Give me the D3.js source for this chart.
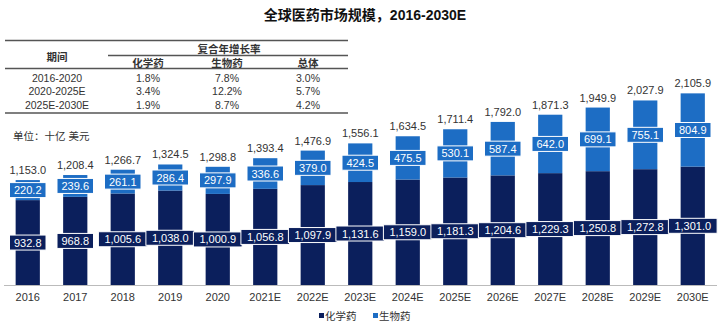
<!DOCTYPE html>
<html>
<head>
<meta charset="utf-8">
<script src="https://cdn.jsdelivr.net/npm/d3@7"></script>
<style>
  html, body { margin: 0; padding: 0; background: #fff; }
  svg text { font-family: "Liberation Sans", Arial, "Noto Sans CJK SC", sans-serif; }
</style>
</head>
<body>
<svg id="chart" width="722" height="325"></svg>
<script>
// Market size, billion USD
const years = ["2016","2017","2018","2019","2020","2021E","2022E","2023E","2024E","2025E","2026E","2027E","2028E","2029E","2030E"];
const chemValues = [932.8, 968.8, 1005.6, 1038.0, 1000.9, 1056.8, 1097.9, 1131.6, 1159.0, 1181.3, 1204.6, 1229.3, 1250.8, 1272.8, 1301.0];
const bioValues = [220.2, 239.6, 261.1, 286.4, 297.9, 336.6, 379.0, 424.5, 475.5, 530.1, 587.4, 642.0, 699.1, 755.1, 804.9];
const totalValues = [1153.0, 1208.4, 1266.7, 1324.5, 1298.8, 1393.4, 1476.9, 1556.1, 1634.5, 1711.4, 1792.0, 1871.3, 1949.9, 2027.9, 2105.9];
const seriesNames = ["化学药", "生物药"];

// CAGR table
const tablePeriods = ["2016-2020", "2020-2025E", "2025E-2030E"];
const tableColumns = ["化学药", "生物药", "总体"];
const cagrChem = ["1.8%", "3.4%", "1.9%"];
const cagrBio = ["7.8%", "12.2%", "8.7%"];
const cagrTotal = ["3.0%", "5.7%", "4.2%"];

const title = "全球医药市场规模，2016-2030E";
const unitLabel = "单位：十亿 美元";

const NAVY = "#0b1f5c";
const BLUE = "#1d6dc4";
const TEXT = "#333";

const svg = d3.select("#chart");
const fmt = d3.format(",.1f");

// Title
svg.append("text")
  .attr("x", 365).attr("y", 20)
  .attr("text-anchor", "middle")
  .attr("font-size", 14).attr("font-weight", "bold").attr("fill", "#111")
  .text(title);

// ---- CAGR table ----
const tbl = svg.append("g");
const ruleColor = "#555";
tbl.append("line").attr("x1", 5).attr("x2", 348).attr("y1", 40.5).attr("y2", 40.5)
  .attr("stroke", ruleColor).attr("stroke-width", 1.5);
tbl.append("line").attr("x1", 108).attr("x2", 348).attr("y1", 55.5).attr("y2", 55.5)
  .attr("stroke", ruleColor).attr("stroke-width", 1.5);
tbl.append("line").attr("x1", 5).attr("x2", 348).attr("y1", 68.5).attr("y2", 68.5)
  .attr("stroke", ruleColor).attr("stroke-width", 1.5);
tbl.append("line").attr("x1", 5).attr("x2", 348).attr("y1", 113).attr("y2", 113)
  .attr("stroke", ruleColor).attr("stroke-width", 1.5);

const colX = [148, 227, 308];
tbl.append("text").attr("x", 57).attr("y", 61).attr("text-anchor", "middle")
  .attr("font-size", 10.5).attr("font-weight", "bold").attr("fill", TEXT).text("期间");
tbl.append("text").attr("x", 229).attr("y", 52.5).attr("text-anchor", "middle")
  .attr("font-size", 10.5).attr("font-weight", "bold").attr("fill", TEXT).text("复合年增长率");
tableColumns.forEach((c, i) => {
  tbl.append("text").attr("x", colX[i]).attr("y", 66.5).attr("text-anchor", "middle")
    .attr("font-size", 10.5).attr("font-weight", "bold").attr("fill", TEXT).text(c);
});
const rowY = [81.5, 95, 109];
tablePeriods.forEach((p, r) => {
  const cells = [p, cagrChem[r], cagrBio[r], cagrTotal[r]];
  const xs = [57].concat(colX);
  cells.forEach((v, i) => {
    tbl.append("text").attr("x", xs[i]).attr("y", rowY[r]).attr("text-anchor", "middle")
      .attr("font-size", 10.5).attr("fill", TEXT).text(v);
  });
});

// Unit label
svg.append("text").attr("x", 13).attr("y", 140)
  .attr("font-size", 10.5).attr("fill", TEXT).text(unitLabel);

// ---- Stacked bars ----
const baseY = 285;
const x = d3.scaleBand().domain(years).range([4, 716.5]).paddingInner(0.49).paddingOuter(0.245);
const y = d3.scaleLinear().domain([0, 2300]).range([baseY, baseY - 2300 * 0.0910]);

const rows = years.map((yr, i) => ({ year: yr, chem: chemValues[i], bio: bioValues[i], total: totalValues[i] }));
const stack = d3.stack().keys(["chem", "bio"])(rows);
const colors = [NAVY, BLUE];

stack.forEach((layer, li) => {
  svg.append("g").selectAll("rect").data(layer).join("rect")
    .attr("x", d => x(d.data.year))
    .attr("width", x.bandwidth())
    .attr("y", d => y(d[1]))
    .attr("height", d => y(d[0]) - y(d[1]))
    .attr("fill", colors[li]);
});

// Axis line and category labels
svg.append("line").attr("x1", 4).attr("x2", 717).attr("y1", baseY + 0.5).attr("y2", baseY + 0.5)
  .attr("stroke", "#bbb").attr("stroke-width", 1);
const xAxis = svg.append("g").attr("transform", `translate(0,${baseY})`)
  .call(d3.axisBottom(x).tickSize(0).tickPadding(8));
xAxis.select(".domain").remove();
xAxis.selectAll("text").attr("font-size", 11).attr("fill", TEXT)
  .attr("font-family", "\"Liberation Sans\", Arial, sans-serif");

// Value boxes inside segments
stack.forEach((layer, li) => {
  const g = svg.append("g");
  layer.forEach(d => {
    const v = d[1] - d[0];
    const label = fmt(v);
    const cx = x(d.data.year) + x.bandwidth() / 2;
    const cy = (y(d[0]) + y(d[1])) / 2;
    const w = label.length * 6.1 + 6;
    g.append("rect")
      .attr("x", cx - w / 2).attr("y", cy - 7.5)
      .attr("width", w).attr("height", 15)
      .attr("fill", colors[li]).attr("stroke", "#fff").attr("stroke-width", 1);
    g.append("text")
      .attr("x", cx).attr("y", cy + 4)
      .attr("text-anchor", "middle").attr("font-size", 11).attr("fill", "#fff")
      .text(label);
  });
});

// Totals above bars
svg.append("g").selectAll("text").data(rows).join("text")
  .attr("x", d => x(d.year) + x.bandwidth() / 2)
  .attr("y", d => y(d.total) - 6)
  .attr("text-anchor", "middle").attr("font-size", 11).attr("fill", TEXT)
  .text(d => fmt(d.total));

// Legend
const legendX = [319, 373];
seriesNames.forEach((n, i) => {
  svg.append("rect").attr("x", legendX[i]).attr("y", 313).attr("width", 5).attr("height", 5)
    .attr("fill", colors[i]);
  svg.append("text").attr("x", legendX[i] + 6).attr("y", 320)
    .attr("font-size", 10.5).attr("fill", TEXT).text(n);
});
</script>
</body>
</html>
